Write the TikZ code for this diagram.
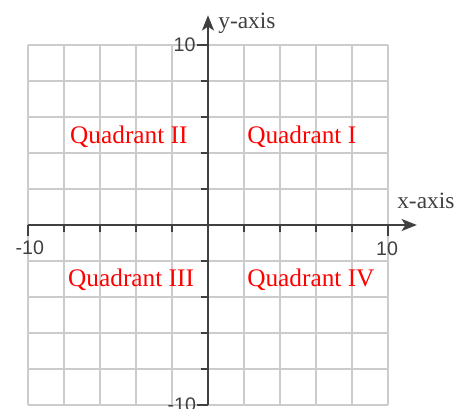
\documentclass[tikz,border=0pt]{standalone}
\usepackage{fontspec}
\setmainfont{Liberation Serif}
\newfontfamily\numfont{Liberation Sans}
\usetikzlibrary{arrows.meta}

\definecolor{gridgray}{HTML}{CCCCCC}
\definecolor{axisgray}{HTML}{404040}
\definecolor{quadred}{HTML}{FF0000}

\begin{document}
\begin{tikzpicture}[x=0.5cm, y=0.5cm,
    gridline/.style={draw=gridgray, line width=1.1pt},
    axisline/.style={draw=axisgray, line width=1.5pt},
    tickline/.style={draw=axisgray, line width=1.3pt},
    ticklabel/.style={text=axisgray, inner sep=0pt, font=\numfont\fontsize{15.5}{18}\selectfont},
    axislabel/.style={text=axisgray, inner sep=0pt, anchor=base west, font=\fontsize{18.5}{22}\selectfont},
    quadlabel/.style={text=quadred, inner sep=0pt, anchor=base west, font=\fontsize{20}{24}\selectfont}]

    % パラメータの定義
    \pgfmathsetmacro{\L}{10}
    \pgfmathsetmacro{\tk}{0.39}
    \pgfmathsetmacro{\tkl}{0.6}

    % 画像の範囲
    \useasboundingbox (-11.556,-10.222) rectangle (14.111,12.5);

    % 軸の端点の定義
    \coordinate (O) at (0,0);
    \coordinate (XL) at (-\L,0);
    \coordinate (XR) at (11.6,0);
    \coordinate (YB) at (0,-\L);
    \coordinate (YT) at (0,11.65);

    % 方眼
    \draw [gridline] (-\L,-\L) grid[step=2] (\L,\L);

    % 目盛り
    \foreach \i in {-8,-6,...,8} {
        \ifnum\i=0 \else
            \draw [tickline] (\i,0) -- (\i,-\tk);
            \draw [tickline] (0,\i) -- (-\tk,0+\i);
        \fi
    }
    \draw [tickline] (XL) -- ++(0,-\tkl);
    \draw [tickline] (\L,0) -- (\L,-\tkl);
    \draw [tickline] (0,\L) -- (-\tkl,\L);
    \draw [tickline] (YB) -- ++(-\tkl,0);

    % 軸
    \draw [axisline, -{Stealth[length=12pt, width=9.5pt, inset=3pt]}] (XL) -- (XR);
    \draw [axisline, -{Stealth[length=12pt, width=9.5pt, inset=3pt]}] (YB) -- (YT);

    % 目盛りのラベル
    \node [ticklabel, anchor=north] (xmin) at (-9.9,-0.85) {-10};
    \node [ticklabel, anchor=north] (xmax) at (9.95,-0.9) {10};
    \node [ticklabel, anchor=east] (ymax) at (-0.68,\L) {10};
    \node [ticklabel, anchor=east] (ymin) at (-0.65,-\L) {-10};

    % 軸のラベル
    \node [axislabel] (ylab) at (0.56,10.94) {y-axis};
    \node [axislabel] (xlab) at (10.5,0.94) {x-axis};

    % 象限のラベル
    \node [quadlabel] (q2) at (-7.67,4.5) {Quadrant II};
    \node [quadlabel] (q1) at (2.17,4.5) {Quadrant I};
    \node [quadlabel] (q3) at (-7.78,-3.39) {Quadrant III};
    \node [quadlabel] (q4) at (2.17,-3.39) {Quadrant IV};

\end{tikzpicture}
\end{document}
